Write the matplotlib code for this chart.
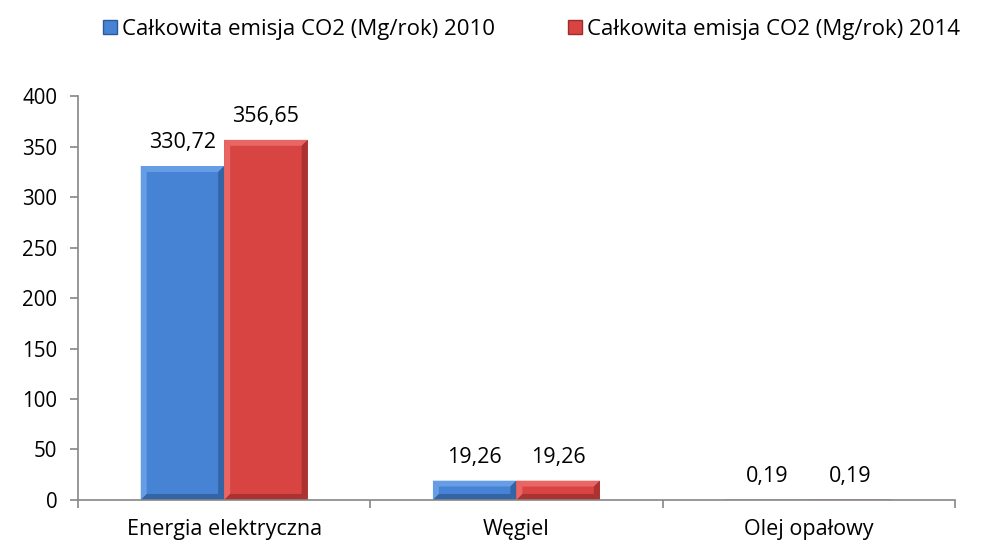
import matplotlib
matplotlib.use("Agg")
import matplotlib.pyplot as plt
from matplotlib.patches import Polygon, Patch
import numpy as np

plt.rcParams['font.family'] = ['Open Sans', 'DejaVu Sans']

categories = ['Energia elektryczna', 'Węgiel', 'Olej opałowy']
emisja_2010 = [330.72, 19.26, 0.19]
emisja_2014 = [356.65, 19.26, 0.19]
series_labels = ['Całkowita emisja CO2 (Mg/rok) 2010', 'Całkowita emisja CO2 (Mg/rok) 2014']
yticks = [0, 50, 100, 150, 200, 250, 300, 350, 400]

# face, light (top/left), dark (right/bottom)
blue = ('#4683d4', '#72a6ea', '#2c5a97')
red = ('#d84442', '#ee7472', '#9c2d2b')

fig = plt.figure(figsize=(9.94, 5.48), dpi=100)
ax = fig.add_axes([0.0785, 0.0876, 0.882, 0.7372])
ax.set_xlim(-0.5, 2.5)
ax.set_ylim(0, 400)

x = np.arange(len(categories))
w = 1 / 3.5


def bevel_bar(x0, h, cols, bpx=6):
    x1 = x0 + w
    ax.add_patch(plt.Rectangle((x0, 0), w, h, facecolor=cols[0], edgecolor='none'))
    # bevel size in data units from pixels
    p0 = ax.transData.inverted().transform((0, 0))
    p1 = ax.transData.inverted().transform((bpx, bpx))
    bx = p1[0] - p0[0]
    by = min(p1[1] - p0[1], h / 2)
    facets = [
        ([(x0, h), (x1, h), (x1 - bx, h - by), (x0 + bx, h - by)], cols[1]),
        ([(x0, 0), (x0, h), (x0 + bx, h - by), (x0 + bx, by)], cols[1]),
        ([(x1, 0), (x1, h), (x1 - bx, h - by), (x1 - bx, by)], cols[2]),
        ([(x0, 0), (x1, 0), (x1 - bx, by), (x0 + bx, by)], cols[2]),
    ]
    for pts, c in facets:
        ax.add_patch(Polygon(pts, closed=True, facecolor=c, edgecolor='none', alpha=0.75))
    if h < 1:  # almost zero bar shows only as a faint line
        ax.plot([x0, x1], [h, h], color=cols[1], lw=1.2, alpha=0.6)


for i in range(len(categories)):
    for vals, cols, off in [(emisja_2010, blue, -w), (emisja_2014, red, 0)]:
        x0 = x[i] + off
        bevel_bar(x0, vals[i], cols)
        ax.annotate(f'{vals[i]:.2f}'.replace('.', ','), (x0 + w / 2, vals[i]),
                    xytext=(0, 9), textcoords='offset points',
                    ha='center', va='bottom', fontsize=15.5)

for s in ['top', 'right']:
    ax.spines[s].set_visible(False)
for s in ['left', 'bottom']:
    ax.spines[s].set_color('#868686')
    ax.spines[s].set_linewidth(1.2)
    ax.spines[s].set_zorder(3)

ax.set_yticks(yticks)
ax.tick_params(axis='y', colors='#868686', length=6, width=1.2, labelsize=14.8, labelcolor='black', pad=9)
ax.set_xticks(x)
ax.set_xticklabels(categories, fontsize=15.5)
ax.tick_params(axis='x', length=0, pad=14)
ax.set_xticks([-0.5, 0.5, 1.5, 2.5], minor=True)
ax.tick_params(axis='x', which='minor', colors='#868686', length=6, width=1.2)

handles = [Patch(facecolor=blue[0], edgecolor=blue[2]), Patch(facecolor=red[0], edgecolor=red[2])]
fig.legend(handles, series_labels, loc='center', bbox_to_anchor=(0.535, 0.946), ncol=2,
           frameon=False, fontsize=16, handlelength=0.6, handleheight=0.6,
           handletextpad=0.25, columnspacing=3.3)

fig.savefig('out.png', dpi=100)
